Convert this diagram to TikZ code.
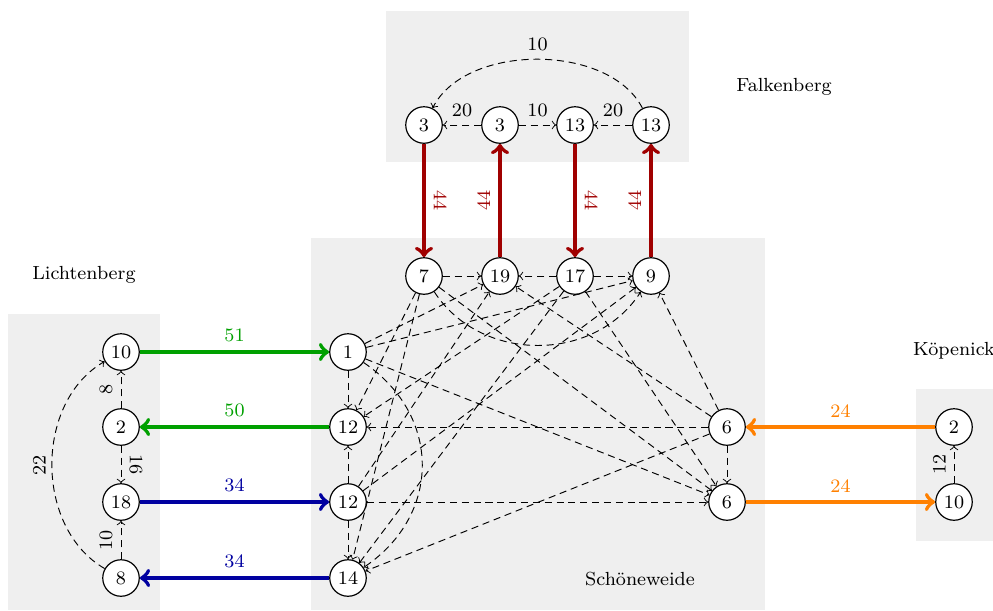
\documentclass[tikz,border=0pt]{standalone}
\usepackage{fontspec}
\definecolor{bg}{RGB}{239,239,239}
\definecolor{cred}{RGB}{160,0,0}
\definecolor{cgreen}{RGB}{0,160,0}
\definecolor{cblue}{RGB}{0,0,160}
\definecolor{corange}{RGB}{255,128,0}
\pgfdeclarelayer{areas}
\pgfdeclarelayer{edges}
\pgfsetlayers{areas,edges,main}
\begin{document}
\begin{tikzpicture}[x=0.4218pt, y=0.4218pt,
  stn/.style={circle, draw, line width=0.5pt, fill=white, minimum size=15.4pt, inner sep=0pt, font=\footnotesize},
  tr/.style={->, dash pattern=on 3pt off 2pt},
  lk/.style={->, line width=1.7pt},
  lbl/.style={font=\footnotesize},
  rname/.style={font=\footnotesize}]
\useasboundingbox (0,0) rectangle (993,610);

% station areas
\begin{pgfonlayer}{areas}
\fill[bg] (386,448) rectangle (689,599);
\fill[bg] (311,0) rectangle (765,372);
\fill[bg] (8,0) rectangle (160,296);
\fill[bg] (916,69) rectangle (993,221);
\end{pgfonlayer}

\node[rname] (nf) at (784,523) {Falkenberg};
\node[rname] (nl) at (84,335) {Lichtenberg};
\node[rname] (nk) at (954,259) {Köpenick};
\node[rname] (ns) at (640,31) {Schöneweide};

% Falkenberg
\node[stn] (f3a)  at (424,485) {3};
\node[stn] (f3b)  at (500,485) {3};
\node[stn] (f13a) at (575,485) {13};
\node[stn] (f13b) at (651,485) {13};
% Schoeneweide
\node[stn] (s7)   at (424,334) {7};
\node[stn] (s19)  at (500,334) {19};
\node[stn] (s17)  at (575,334) {17};
\node[stn] (s9)   at (651,334) {9};
\node[stn] (s1)   at (348,258) {1};
\node[stn] (s12a) at (348,183) {12};
\node[stn] (s12b) at (348,108) {12};
\node[stn] (s14)  at (348,32) {14};
\node[stn] (s6a)  at (727,183) {6};
\node[stn] (s6b)  at (727,108) {6};
% Lichtenberg
\node[stn] (l10) at (121,258) {10};
\node[stn] (l2)  at (121,183) {2};
\node[stn] (l18) at (121,108) {18};
\node[stn] (l8)  at (121,32) {8};
% Koepenick
\node[stn] (k2)  at (954,183) {2};
\node[stn] (k10) at (954,108) {10};

\begin{pgfonlayer}{edges}
% Falkenberg transfers
\draw[tr] (f3b) -- node[lbl, above] {20} (f3a);
\draw[tr] (f3b) -- node[lbl, above] {10} (f13a);
\draw[tr] (f13b) -- node[lbl, above] {20} (f13a);
\draw[tr] (f13b) .. controls +(117:92) and +(63:92) .. (f3a) node[lbl, midway, above] {10};

% Lichtenberg transfers
\draw[tr] (l2) -- node[lbl, rotate=90, anchor=south] {8} (l10);
\draw[tr] (l2) -- node[lbl, rotate=-90, anchor=south] {16} (l18);
\draw[tr] (l8) -- node[lbl, rotate=90, anchor=south] {10} (l18);
\draw[tr] (l8) .. controls +(150:100) and +(-150:100) .. (l10) node[lbl, midway, rotate=90, anchor=south, inner sep=2.5pt] {22};

% Koepenick transfer
\draw[tr] (k10) -- node[lbl, rotate=90, anchor=south] {12} (k2);

% Schoeneweide transfers
\draw[tr] (s7) -- (s19);
\draw[tr] (s7) .. controls +(-57:104) and +(-123:104) .. (s9);
\draw[tr] (s7) -- (s12a);
\draw[tr] (s7) -- (s14);
\draw[tr] (s7) -- (s6b);
\draw[tr] (s17) -- (s19);
\draw[tr] (s17) -- (s9);
\draw[tr] (s17) -- (s12a);
\draw[tr] (s17) -- (s14);
\draw[tr] (s17) -- (s6b);
\draw[tr] (s1) -- (s19);
\draw[tr] (s1) -- (s9);
\draw[tr] (s1) -- (s12a);
\draw[tr] (s1) .. controls +(-34:113) and +(34:113) .. (s14);
\draw[tr] (s1) -- (s6b);
\draw[tr] (s12b) -- (s19);
\draw[tr] (s12b) -- (s9);
\draw[tr] (s12b) -- (s12a);
\draw[tr] (s12b) -- (s14);
\draw[tr] (s12b) -- (s6b);
\draw[tr] (s6a) -- (s19);
\draw[tr] (s6a) -- (s9);
\draw[tr] (s6a) -- (s12a);
\draw[tr] (s6a) -- (s14);
\draw[tr] (s6a) -- (s6b);

% train runs
\draw[lk, cred] (f3a) -- node[lbl, rotate=-90, anchor=south] {44} (s7);
\draw[lk, cred] (s19) -- node[lbl, rotate=90, anchor=south] {44} (f3b);
\draw[lk, cred] (f13a) -- node[lbl, rotate=-90, anchor=south] {44} (s17);
\draw[lk, cred] (s9) -- node[lbl, rotate=90, anchor=south] {44} (f13b);
\draw[lk, cgreen] (l10) -- node[lbl, above] {51} (s1);
\draw[lk, cgreen] (s12a) -- node[lbl, above] {50} (l2);
\draw[lk, cblue] (l18) -- node[lbl, above] {34} (s12b);
\draw[lk, cblue] (s14) -- node[lbl, above] {34} (l8);
\draw[lk, corange] (k2) -- node[lbl, above] {24} (s6a);
\draw[lk, corange] (s6b) -- node[lbl, above] {24} (k10);
\end{pgfonlayer}
\end{tikzpicture}
\end{document}
